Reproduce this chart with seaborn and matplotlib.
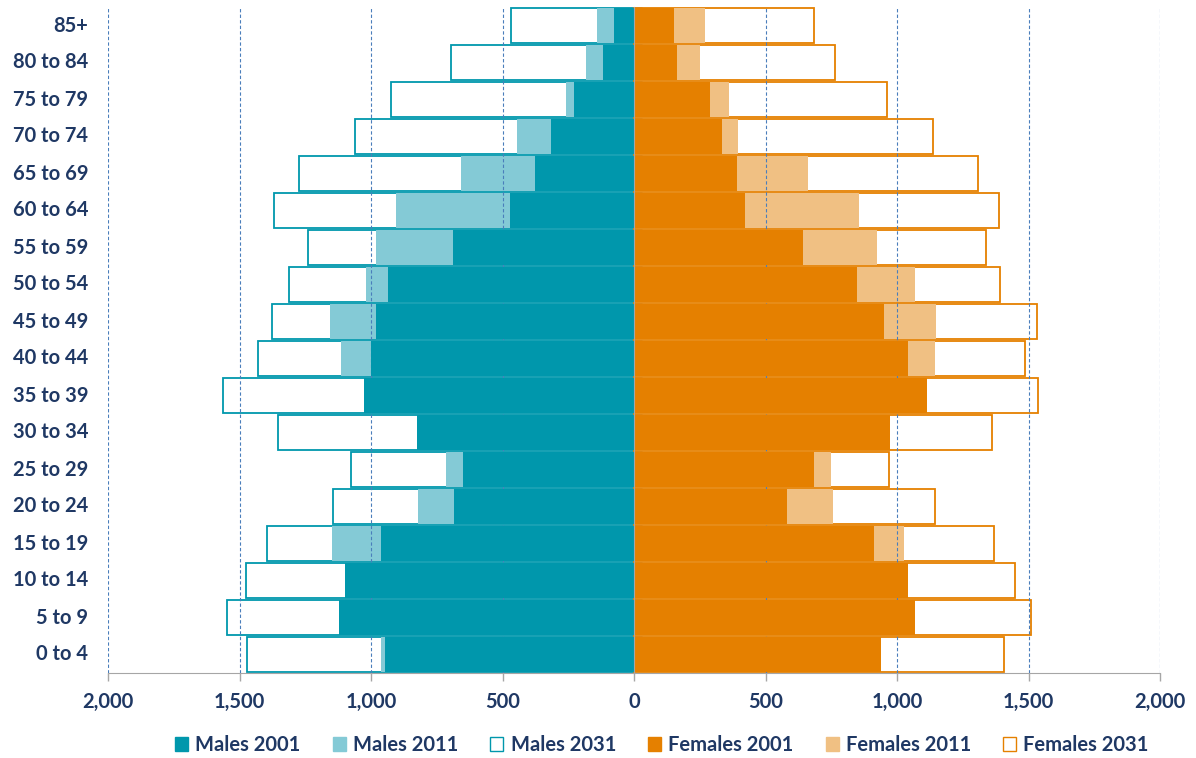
import numpy as np
import pandas as pd
import matplotlib
matplotlib.use("Agg")
import matplotlib.pyplot as plt
import seaborn as sns
from matplotlib.patches import Patch
from matplotlib.ticker import FuncFormatter

# age groups, top of the pyramid first
ages = ["85+", "80 to 84", "75 to 79", "70 to 74", "65 to 69", "60 to 64",
        "55 to 59", "50 to 54", "45 to 49", "40 to 44", "35 to 39", "30 to 34",
        "25 to 29", "20 to 24", "15 to 19", "10 to 14", "5 to 9", "0 to 4"]

males_2001 = [75, 119, 229, 314, 375, 473, 688, 934, 982, 1000, 1025, 825,
              649, 683, 961, 1099, 1120, 948]
males_2011 = [139, 184, 260, 445, 659, 904, 981, 1018, 1156, 1113, 900, 720,
              716, 820, 1148, 1000, 1010, 961]
males_2031 = [466, 697, 923, 1060, 1274, 1370, 1238, 1312, 1375, 1428, 1561, 1352,
              1077, 1143, 1394, 1474, 1548, 1470]
females_2001 = [152, 163, 289, 336, 392, 423, 643, 848, 949, 1042, 1114, 972,
                683, 582, 914, 1042, 1067, 939]
females_2011 = [269, 251, 361, 394, 663, 856, 924, 1068, 1148, 1144, 1000, 850,
                749, 758, 1025, 980, 1000, 900]
females_2031 = [683, 766, 961, 1136, 1308, 1387, 1340, 1392, 1532, 1487, 1537, 1362,
                968, 1143, 1369, 1449, 1511, 1408]

teal = "#0097AC"
teal_light = "#84CAD6"
orange = "#E58000"
orange_light = "#F0C083"
navy = "#1F3864"
fs = 14.5

sns.set_style("white")
plt.rcParams["font.family"] = ["Lato", "DejaVu Sans"]

fig = plt.figure(figsize=(11.96, 7.58), dpi=100)
ax = fig.add_axes([108 / 1196, 1 - 673 / 758, 1052 / 1196, 666 / 758])

def bars(values, sign, face, edge, z):
    sns.barplot(x=sign * np.array(values), y=ages, order=ages, color=face,
                edgecolor=edge, linewidth=1.3, width=0.97, saturation=1,
                errorbar=None, ax=ax, zorder=z)

# 2031 outlines at the back, then 2011, then 2001 on top
bars(males_2031, -1, "white", teal, 1)
bars(females_2031, 1, "white", orange, 1)
bars(males_2011, -1, teal_light, "none", 2)
bars(females_2011, 1, orange_light, "none", 2)
bars(males_2001, -1, teal, "none", 4)
bars(females_2001, 1, orange, "none", 4)

xt = [-2000, -1500, -1000, -500, 0, 500, 1000, 1500, 2000]
for v in xt:
    if v != 0:
        ax.axvline(v, color="#4A7EBB", lw=0.8, ls=(0, (3, 2)), zorder=3)

ax.set_xlim(-2000, 2000)
ax.set_ylim(len(ages) - 0.5, -0.5)
ax.set_xticks(xt)
ax.xaxis.set_major_formatter(FuncFormatter(lambda v, p: f"{abs(int(v)):,}"))
ax.tick_params(axis="x", length=6, color="#A6A6A6", width=1, pad=8,
               labelsize=fs, labelcolor=navy, bottom=True)
for lab in ax.get_xticklabels():
    lab.set_fontweight("bold")
ax.set_xlabel("")
ax.set_ylabel("")

# centre axis at zero with small ticks between the age groups
ax.spines["left"].set_position(("data", 0))
ax.spines["left"].set_color("#A6A6A6")
ax.spines["left"].set_zorder(5)
ax.spines["bottom"].set_color("#A6A6A6")
ax.spines["top"].set_visible(False)
ax.spines["right"].set_visible(False)
ax.set_yticks([])
ax.set_yticks(np.arange(len(ages) + 1) - 0.5, minor=True)
ax.tick_params(axis="y", which="minor", direction="in", length=6,
               color="#A6A6A6", left=True)
for i, a in enumerate(ages):
    ax.text(-0.019, i, a, transform=ax.get_yaxis_transform(), ha="right",
            va="center", fontsize=fs, fontweight="bold", color=navy)

handles = [
    Patch(facecolor=teal, edgecolor=teal, label="Males 2001"),
    Patch(facecolor=teal_light, edgecolor=teal_light, label="Males 2011"),
    Patch(facecolor="white", edgecolor=teal, label="Males 2031"),
    Patch(facecolor=orange, edgecolor=orange, label="Females 2001"),
    Patch(facecolor=orange_light, edgecolor=orange_light, label="Females 2011"),
    Patch(facecolor="white", edgecolor=orange, label="Females 2031"),
]
leg = fig.legend(handles=handles, loc="center", bbox_to_anchor=(662 / 1196, 1 - 745 / 758),
                 ncol=6, frameon=False, handlelength=0.65, handleheight=0.65,
                 handletextpad=0.35, columnspacing=1.6,
                 prop={"size": fs, "weight": "bold"})
for t in leg.get_texts():
    t.set_color(navy)

fig.savefig("out.png", dpi=100)
